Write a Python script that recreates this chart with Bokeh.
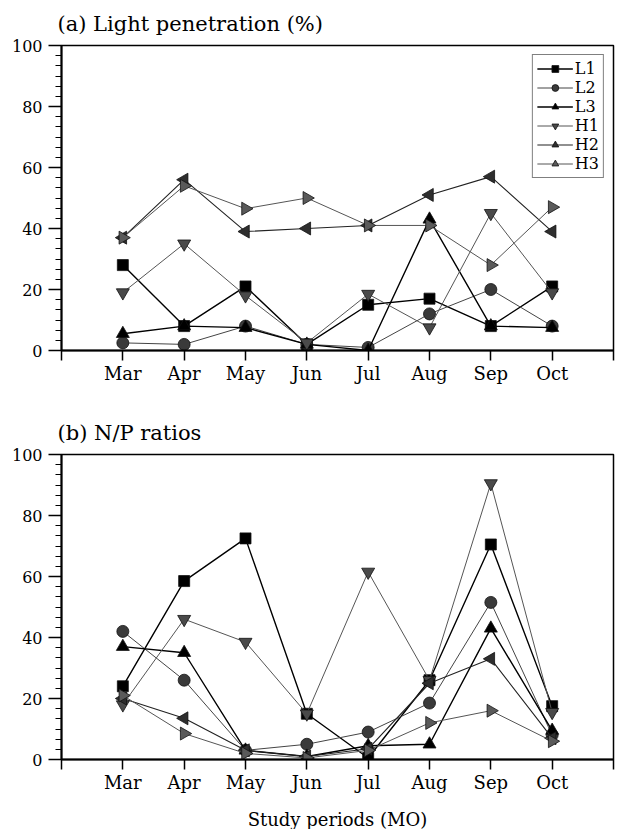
import math
from bokeh.plotting import figure
from bokeh.layouts import column
from bokeh.models import Range1d, FixedTicker, SingleIntervalTicker
from bokeh.embed import file_html
from bokeh.resources import INLINE

months = ["Mar", "Apr", "May", "Jun", "Jul", "Aug", "Sep", "Oct"]
series_names = ["L1", "L2", "L3", "H1", "H2", "H3"]

# (a) Light penetration (%)
light_L1 = [28, 8, 21, 2, 15, 17, 8, 21]
light_L2 = [2.5, 2, 8, 2, 1, 12, 20, 8]
light_L3 = [5.5, 8, 7.5, 2, 0, 43, 8, 7.5]
light_H1 = [19, 35, 18, 2.5, 18.5, 7.5, 45, 19]
light_H2 = [37, 56, 39, 40, 41, 51, 57, 39]
light_H3 = [37, 54, 46.5, 50, 41, 41, 28, 47]

# (b) N/P ratios
np_L1 = [24, 58.5, 72.5, 15, 0.5, 26, 70.5, 17.5]
np_L2 = [42, 26, 3, 5, 9, 18.5, 51.5, 8]
np_L3 = [37, 35, 3, 1, 4.5, 5, 43, 9.5]
np_H1 = [18, 46, 38.5, 15, 61.5, 26, 90.5, 15.5]
np_H2 = [20, 13.5, 3, 1, 3.5, 25, 33, 7]
np_H3 = [21, 8.5, 2, 0.5, 3, 12, 16, 6]

styles = {
    "L1": dict(marker="square", size=11, fill="#000000", line="#000000", lw=1.4, angle=0),
    "L2": dict(marker="circle", size=12, fill="#3a3a3a", line="#444444", lw=1.0, angle=0),
    "L3": dict(marker="triangle", size=13, fill="#000000", line="#000000", lw=1.4, angle=0),
    "H1": dict(marker="inverted_triangle", size=13, fill="#4a4a4a", line="#555555", lw=1.0, angle=0),
    "H2": dict(marker="triangle", size=13, fill="#2e2e2e", line="#222222", lw=1.1, angle=math.pi / 2),
    "H3": dict(marker="triangle", size=13, fill="#5a5a5a", line="#555555", lw=1.0, angle=-math.pi / 2),
}

FONT = "DejaVu Serif"


def make_panel(title, data, bottom, legend, xlabel=None):
    p = figure(frame_width=552, frame_height=305, output_backend="svg", toolbar_location=None,
               x_range=Range1d(0, 9), y_range=Range1d(0, 100),
               min_border_left=61, min_border_right=5, min_border_top=45,
               min_border_bottom=bottom)
    p.title.text = title
    p.title.text_font = FONT
    p.title.text_font_style = "normal"
    p.title.text_font_size = "21px"
    p.title.text_color = "black"
    p.title.align = "left"
    p.title.vertical_align = "top"
    p.title.offset = -4
    p.title.standoff = 16
    p.grid.visible = False
    p.outline_line_color = "black"
    p.outline_line_width = 1.5
    p.background_fill_color = "white"
    p.border_fill_color = "white"

    xs = list(range(1, len(months) + 1))
    for name, ys in zip(series_names, data):
        st = styles[name]
        kw = dict(legend_label=name) if legend else {}
        p.line(xs, ys, line_color=st["line"], line_width=st["lw"], **kw)
        p.scatter(xs, ys, marker=st["marker"], size=st["size"], angle=st["angle"],
                  fill_color=st["fill"], line_color="#111111", line_width=0.8, **kw)

    xa = p.xaxis[0]
    xa.ticker = FixedTicker(ticks=list(range(0, 10)))
    overrides = {i + 1: m for i, m in enumerate(months)}
    overrides[0] = ""
    overrides[9] = ""
    xa.major_label_overrides = overrides
    xa.major_tick_out = 10
    xa.major_tick_in = 0
    xa.minor_tick_line_color = None
    xa.axis_line_width = 2
    xa.axis_line_color = "black"
    xa.major_tick_line_color = "black"
    xa.major_tick_line_width = 1.5
    xa.major_label_text_font = FONT
    xa.major_label_text_font_size = "18px"
    xa.major_label_text_color = "black"
    xa.major_label_standoff = 2
    if xlabel:
        xa.axis_label = xlabel
        xa.axis_label_text_font = FONT
        xa.axis_label_text_font_style = "normal"
        xa.axis_label_text_font_size = "18px"
        xa.axis_label_text_color = "black"
        xa.axis_label_standoff = 13

    ya = p.yaxis[0]
    ya.ticker = SingleIntervalTicker(interval=20, num_minor_ticks=6)
    ya.major_tick_out = 13
    ya.major_tick_in = 0
    ya.minor_tick_out = 6
    ya.minor_tick_in = 0
    ya.axis_line_width = 2
    ya.axis_line_color = "black"
    ya.major_tick_line_color = "black"
    ya.minor_tick_line_color = "black"
    ya.major_tick_line_width = 1.5
    ya.minor_tick_line_width = 1.2
    ya.major_label_text_font = FONT
    ya.major_label_text_font_size = "16px"
    ya.major_label_text_color = "black"
    ya.major_label_standoff = 6

    if legend:
        lg = p.legend[0]
        lg.location = "top_right"
        lg.margin = 9
        lg.padding = 4
        lg.spacing = 0
        lg.label_height = 17
        lg.glyph_height = 17
        lg.glyph_width = 36
        lg.label_standoff = 2
        lg.label_text_font = FONT
        lg.label_text_font_size = "16px"
        lg.label_text_color = "black"
        lg.border_line_color = "black"
        lg.border_line_width = 1.5
        lg.background_fill_alpha = 1
    return p


pa = make_panel("(a) Light penetration (%)",
                [light_L1, light_L2, light_L3, light_H1, light_H2, light_H3],
                59, True)
pb = make_panel("(b) N/P ratios",
                [np_L1, np_L2, np_L3, np_H1, np_H2, np_H3],
                70, False, xlabel="Study periods (MO)")

layout = column(pa, pb, spacing=0)
open("out.html", "w").write(file_html(layout, INLINE))
